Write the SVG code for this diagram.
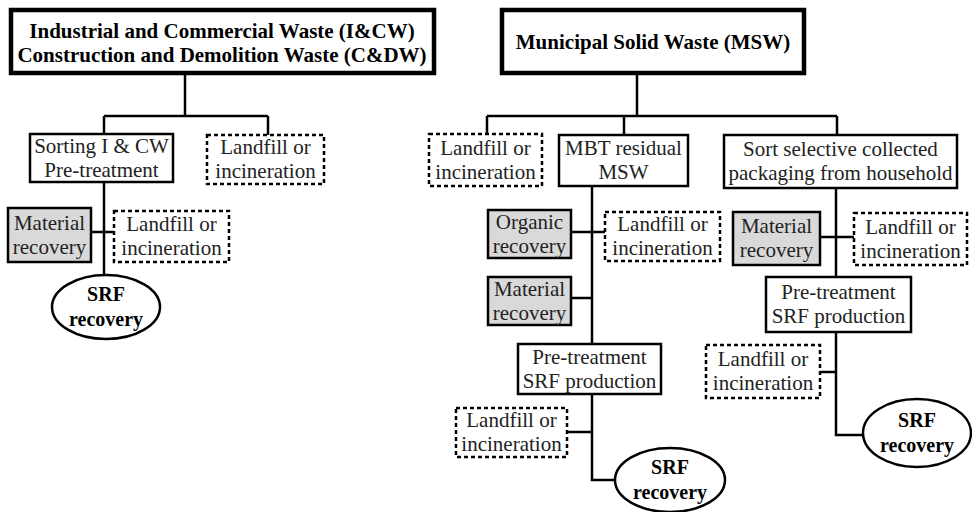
<svg xmlns="http://www.w3.org/2000/svg" width="972" height="512" viewBox="0 0 972 512" font-family="'Liberation Serif', 'DejaVu Serif', serif">
<style>
text{font-size:21px;fill:#222;text-anchor:middle}
.t{font-weight:bold;font-size:21px;fill:#000}
.e{font-weight:bold;font-size:20px;fill:#000}
.top{fill:#fff;stroke:#000;stroke-width:4.5}
.box{fill:#fff;stroke:#000;stroke-width:2.5}
.gray{fill:#d9d9d9;stroke:#000;stroke-width:2.5}
.dash{fill:#fff;stroke:#000;stroke-width:2.5;stroke-dasharray:4 3}
.ell{fill:#fff;stroke:#000;stroke-width:2.5}
.con{fill:none;stroke:#000;stroke-width:2.5}
</style>
<g id="connectors" class="con">
<path d="M185 73V116M104 116H268M104 116V134M268 116V135"/>
<path d="M104 182V275M91 232H114"/>
<path d="M637 73V116M487 116H837M487 116V134M624 116V135M837 116V135"/>
<path d="M592 186V344M571 232H605M571 298H592"/>
<path d="M592 394V480H615M567 432H592"/>
<path d="M836 188V277M820 237H854"/>
<path d="M836 332V435H863M820 372H836"/>
</g>
<g id="icw">
<rect class="top" x="11" y="10" width="423" height="63"/>
<text class="t" x="222" y="38">Industrial and Commercial Waste (I&amp;CW)</text>
<text class="t" x="222" y="62">Construction and Demolition Waste (C&amp;DW)</text>
</g>
<g id="sorting">
<rect class="box" x="30" y="134" width="143" height="48"/>
<text x="101.5" y="153">Sorting I &amp; CW</text>
<text x="101.5" y="177">Pre-treatment</text>
</g>
<g id="landfill1">
<rect class="dash" x="207" y="135" width="117" height="49"/>
<text x="265.5" y="154">Landfill or</text>
<text x="265.5" y="178">incineration</text>
</g>
<g id="material1">
<rect class="gray" x="8" y="208" width="83" height="54"/>
<text x="49.5" y="230">Material</text>
<text x="49.5" y="254">recovery</text>
</g>
<g id="landfill2">
<rect class="dash" x="114" y="211" width="115" height="51"/>
<text x="171.5" y="231">Landfill or</text>
<text x="171.5" y="255">incineration</text>
</g>
<g id="srf1">
<ellipse class="ell" cx="106" cy="307" rx="54" ry="32"/>
<text class="e" x="106" y="301">SRF</text>
<text class="e" x="106" y="326">recovery</text>
</g>
<g id="msw">
<rect class="top" x="502" y="10" width="302" height="63"/>
<text class="t" x="653" y="49">Municipal Solid Waste (MSW)</text>
</g>
<g id="landfill3">
<rect class="dash" x="429" y="134" width="113" height="52"/>
<text x="485.5" y="155">Landfill or</text>
<text x="485.5" y="179">incineration</text>
</g>
<g id="mbt">
<rect class="box" x="559" y="135" width="129" height="51"/>
<text x="623.5" y="155">MBT residual</text>
<text x="623.5" y="179">MSW</text>
</g>
<g id="sortsel">
<rect class="box" x="724" y="135" width="233" height="53"/>
<text x="840.5" y="156">Sort selective collected</text>
<text x="840.5" y="180">packaging from household</text>
</g>
<g id="organic">
<rect class="gray" x="488" y="210" width="83" height="48"/>
<text x="529.5" y="229">Organic</text>
<text x="529.5" y="253">recovery</text>
</g>
<g id="landfill4">
<rect class="dash" x="605" y="212" width="115" height="49"/>
<text x="662.5" y="231">Landfill or</text>
<text x="662.5" y="255">incineration</text>
</g>
<g id="material2">
<rect class="gray" x="488" y="277" width="83" height="48"/>
<text x="529.5" y="296">Material</text>
<text x="529.5" y="320">recovery</text>
</g>
<g id="pretreat1">
<rect class="box" x="518" y="344" width="143" height="50"/>
<text x="589.5" y="364">Pre-treatment</text>
<text x="589.5" y="388">SRF production</text>
</g>
<g id="landfill5">
<rect class="dash" x="456" y="408" width="111" height="49"/>
<text x="511.5" y="427">Landfill or</text>
<text x="511.5" y="451">incineration</text>
</g>
<g id="srf2">
<ellipse class="ell" cx="670" cy="480" rx="55" ry="32"/>
<text class="e" x="670" y="474">SRF</text>
<text class="e" x="670" y="499">recovery</text>
</g>
<g id="material3">
<rect class="gray" x="733" y="212" width="87" height="53"/>
<text x="776.5" y="233">Material</text>
<text x="776.5" y="257">recovery</text>
</g>
<g id="landfill6">
<rect class="dash" x="854" y="213" width="113" height="52"/>
<text x="910.5" y="234">Landfill or</text>
<text x="910.5" y="258">incineration</text>
</g>
<g id="pretreat2">
<rect class="box" x="766" y="277" width="145" height="55"/>
<text x="838.5" y="299">Pre-treatment</text>
<text x="838.5" y="323">SRF production</text>
</g>
<g id="landfill7">
<rect class="dash" x="706" y="345" width="114" height="53"/>
<text x="763" y="366">Landfill or</text>
<text x="763" y="390">incineration</text>
</g>
<g id="srf3">
<ellipse class="ell" cx="917" cy="433" rx="54" ry="34"/>
<text class="e" x="917" y="427">SRF</text>
<text class="e" x="917" y="452">recovery</text>
</g>
</svg>
